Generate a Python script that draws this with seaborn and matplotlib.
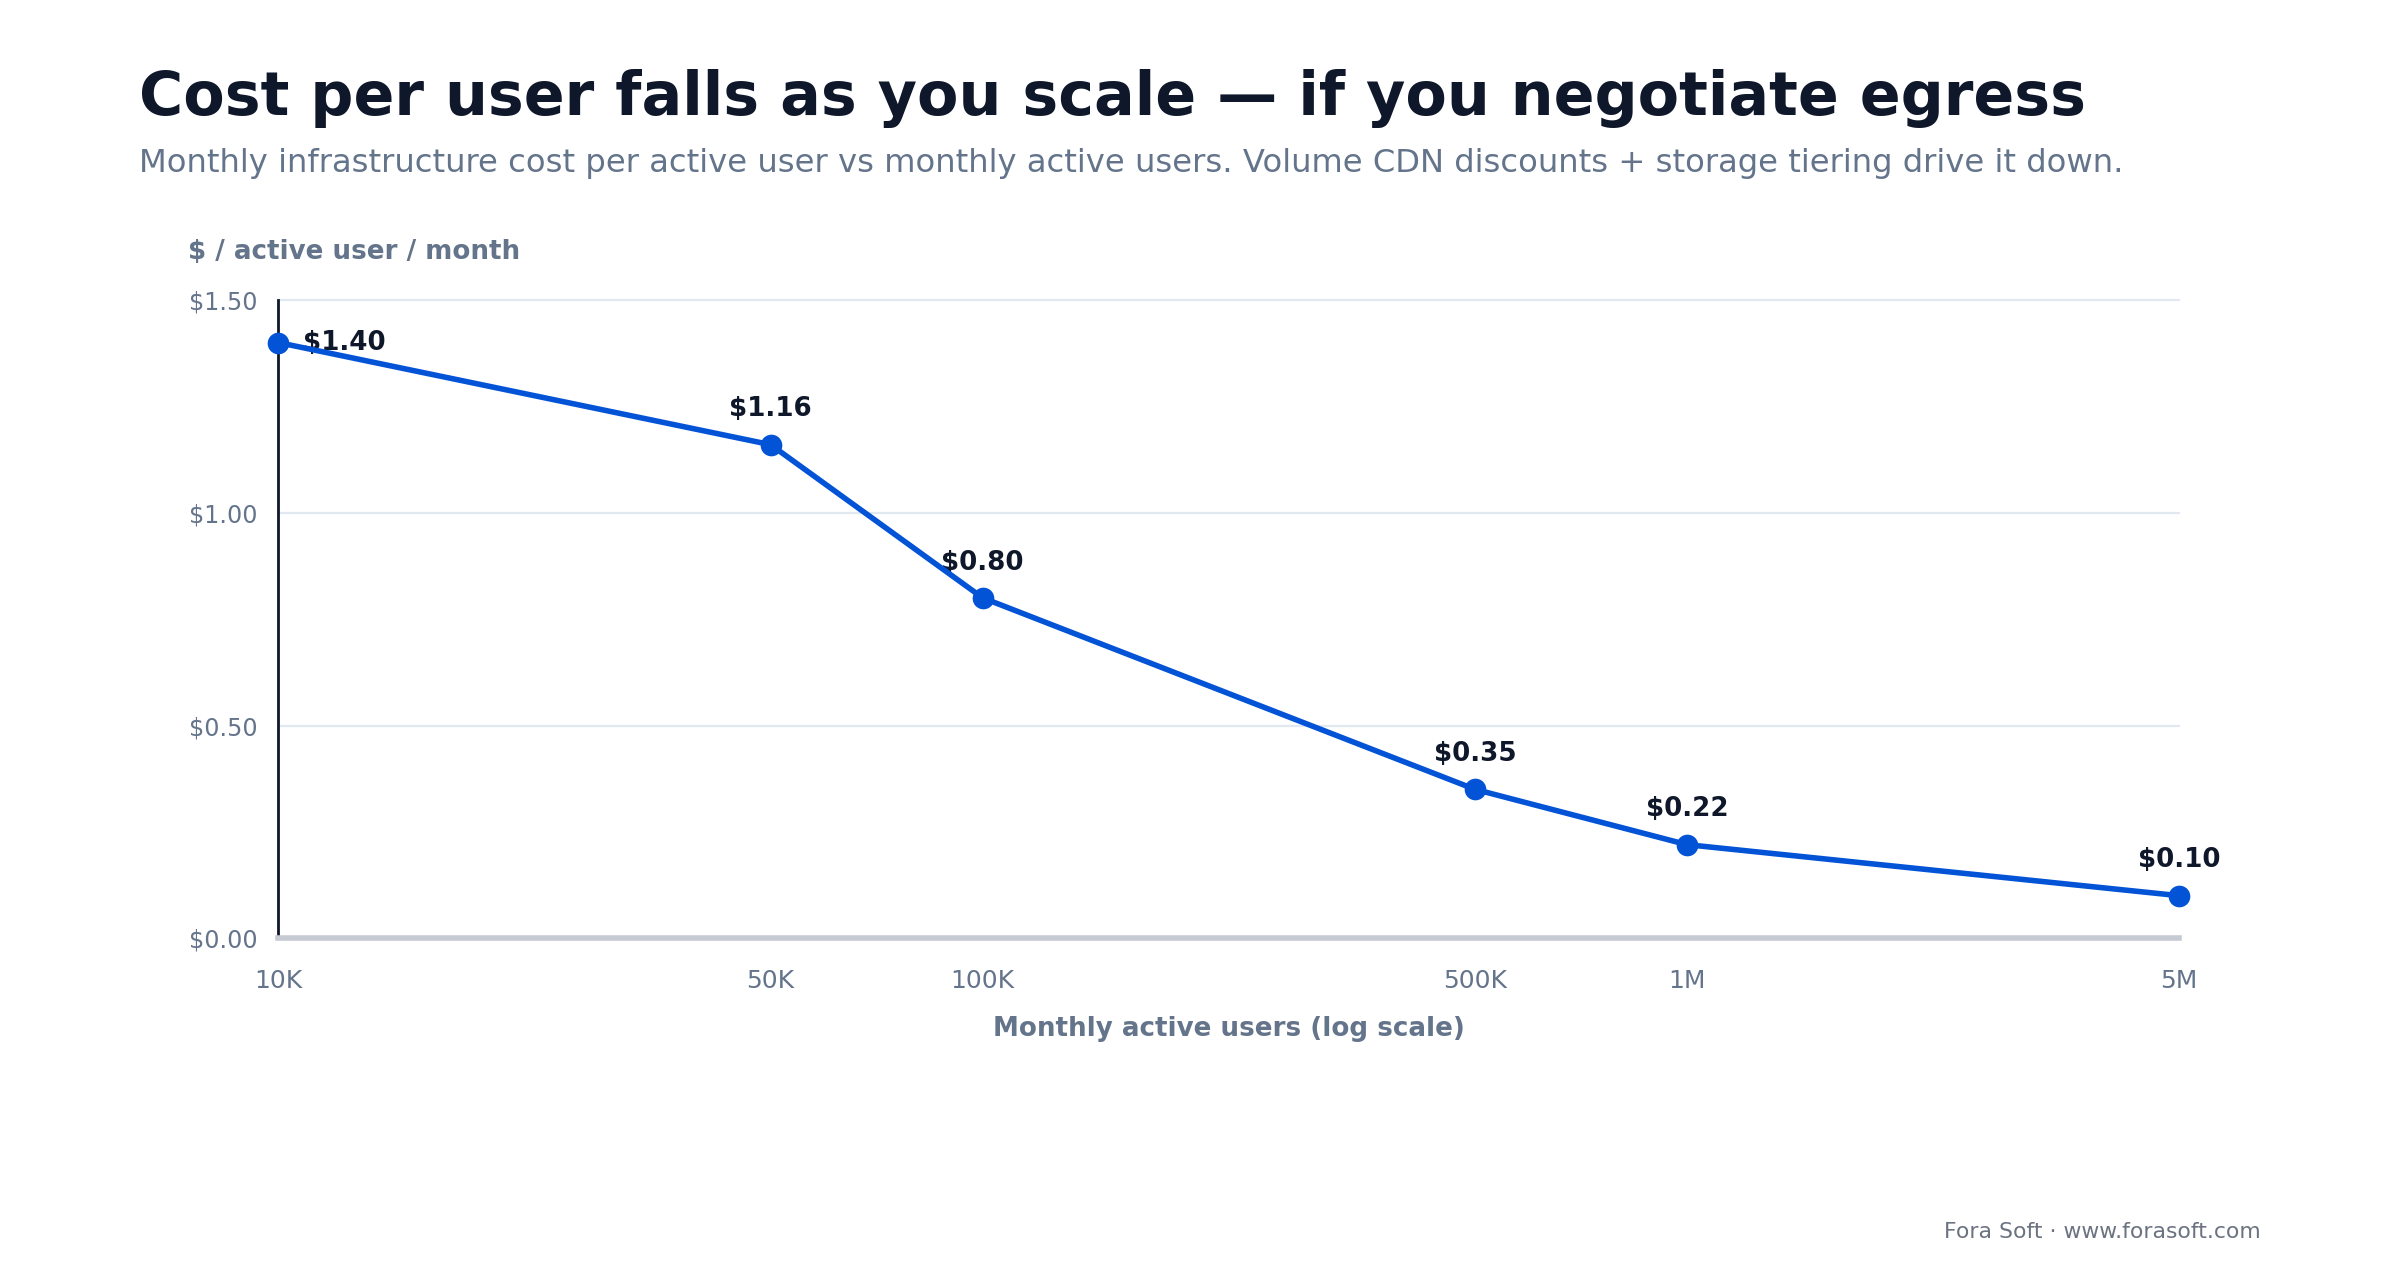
import matplotlib
matplotlib.use("Agg")
import matplotlib.pyplot as plt
import seaborn as sns
import pandas as pd

# data
users = [10_000, 50_000, 100_000, 500_000, 1_000_000, 5_000_000]
user_labels = ["10K", "50K", "100K", "500K", "1M", "5M"]
cost = [1.40, 1.16, 0.80, 0.35, 0.22, 0.10]
y_ticks = [0.0, 0.5, 1.0, 1.5]

BLUE = "#0353d6"
DARK = "#0f172a"
SLATE = "#64748b"

sns.set_theme(style="white")
plt.rcParams["font.family"] = ["DejaVu Sans"]

df = pd.DataFrame({"users": users, "cost": cost})

fig = plt.figure(figsize=(12, 6.4), dpi=200)
ax = fig.add_axes([0.116, 0.267, 0.792, 0.4986])

sns.lineplot(data=df, x="users", y="cost", ax=ax, color=BLUE, linewidth=2.0,
             marker="o", markersize=7.8, markeredgecolor=BLUE, markeredgewidth=0,
             clip_on=False, zorder=5)

ax.set_xscale("log")
ax.set_xlim(users[0], users[-1])
ax.set_ylim(0, 1.5)
ax.set_xticks(users)
ax.set_xticklabels(user_labels)
ax.minorticks_off()
ax.set_yticks(y_ticks)
ax.set_yticklabels([f"${v:.2f}" for v in y_ticks])
ax.tick_params(axis="both", length=0, labelcolor=SLATE)
ax.tick_params(axis="y", pad=7.5, labelsize=8.6)
ax.tick_params(axis="x", pad=11, labelsize=9.0)

ax.grid(axis="y", color="#e2e8f0", linewidth=0.8, clip_on=False)
ax.set_axisbelow(True)
for side in ["top", "right"]:
    ax.spines[side].set_visible(False)
ax.spines["left"].set_color(DARK)
ax.spines["left"].set_linewidth(1.0)
ax.spines["bottom"].set_color("#c6cad3")
ax.spines["bottom"].set_linewidth(2.0)

ax.set_xlabel("Monthly active users (log scale)", fontsize=9.4, fontweight="bold",
              color=SLATE, labelpad=8.5)
ax.set_ylabel("")

# value labels
for i, (u, c) in enumerate(zip(users, cost)):
    if i == 0:
        ax.annotate(f"${c:.2f}", (u, c), xytext=(9, 0), textcoords="offset points",
                    ha="left", va="center", fontsize=9.4, fontweight="bold", color=DARK)
    else:
        ax.annotate(f"${c:.2f}", (u, c), xytext=(0, 8), textcoords="offset points",
                    ha="center", va="bottom", fontsize=9.4, fontweight="bold", color=DARK)

fig.text(0.058, 0.923, "Cost per user falls as you scale — if you negotiate egress",
         fontsize=21.7, fontweight="bold", color=DARK, va="center")
fig.text(0.058, 0.872,
         "Monthly infrastructure cost per active user vs monthly active users. "
         "Volume CDN discounts + storage tiering drive it down.",
         fontsize=11.6, color=SLATE, va="center")
fig.text(0.0785, 0.803, "$ / active user / month", fontsize=9.4, fontweight="bold",
         color=SLATE, va="center")
fig.text(0.942, 0.0375, "Fora Soft · www.forasoft.com", fontsize=7.9, color="#6b7280",
         ha="right", va="center")

fig.savefig("out.png", dpi=200, facecolor="white")
